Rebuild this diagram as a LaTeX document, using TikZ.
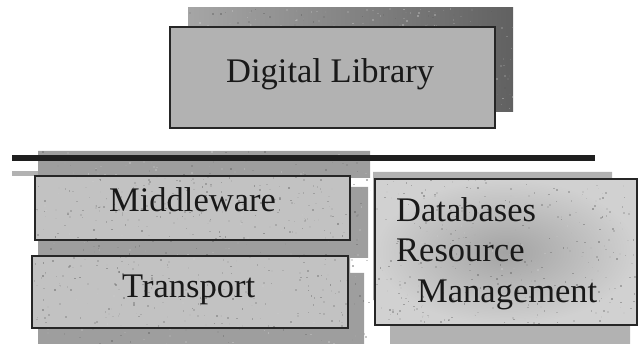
\documentclass[tikz,border=0pt]{standalone}
\usepackage{fontspec}
\setmainfont{Liberation Serif}
\begin{document}
\begin{tikzpicture}[x=1pt,y=-1pt,
  layerbox/.style={draw=black!85, line width=1.6pt, inner sep=0pt},
  layertext/.style={font=\fontsize{34.5}{40}\selectfont, text=black!90, inner sep=0pt, anchor=base west},
  backdrop/.style={fill=black!38},
]
\useasboundingbox (0,0) rectangle (639,344);
\pgfmathsetseed{4217}

% granite-like speckle inside the current clip region
\newcommand{\speckle}[5]{% x0, y0, width, height, count
  \foreach \k in {1,...,#5}{
    \pgfmathsetmacro{\sx}{#1+rnd*#3}
    \pgfmathsetmacro{\sy}{#2+rnd*#4}
    \pgfmathsetmacro{\sg}{int(20+rnd*45)}
    \fill[black!\sg, opacity=0.45] (\sx,\sy) rectangle ++(1.6,1.6);
  }}

% shadow behind the top layer
\fill[left color=black!35, right color=black!62] (188,8) rectangle (513,112);
\begin{scope}
  \clip (188,8) rectangle (513,112);
  \speckle{188}{8}{325}{104}{500}
\end{scope}

% textured backdrop behind the left-hand stack
\fill[backdrop] (38,151) -- (370,151) -- (370,178) -- (350,178) -- (350,187)
  -- (368,187) -- (368,258) -- (350,258) -- (350,273) -- (364,273)
  -- (364,344) -- (38,344) -- cycle;
\fill[black!30] (12,171) rectangle (38,176);
\begin{scope}
  \clip (38,151) rectangle (370,344);
  \speckle{38}{151}{332}{193}{500}
\end{scope}

% backdrop behind the right-hand box
\fill[black!30] (373,172) -- (612,172) -- (612,200) -- (630,200) -- (630,344)
  -- (390,344) -- (390,300) -- (373,300) -- cycle;

% separating bar
\coordinate (barL) at (12,158);
\coordinate (barR) at (595,158);
\draw[line width=6pt, black!88] (barL) -- (barR);

% layer boxes (fills first, speckle, then outlines)
\node[layerbox, fill=black!30, minimum width=325pt, minimum height=101pt] (dl) at (332.5,77.5) {};
\node[inner sep=0pt, fill=black!24, minimum width=315pt, minimum height=64pt] (mw) at (192.5,208) {};
\node[inner sep=0pt, fill=black!24, minimum width=316pt, minimum height=72pt] (tr) at (190,292) {};
\node[inner sep=0pt, inner color=black!36, outer color=black!18, minimum width=262pt, minimum height=146pt] (db) at (506,252) {};

\begin{scope}
  \clip (mw.south west) rectangle (mw.north east);
  \speckle{35}{176}{315}{64}{250}
\end{scope}
\begin{scope}
  \clip (tr.south west) rectangle (tr.north east);
  \speckle{32}{256}{316}{72}{250}
\end{scope}
\begin{scope}
  \clip (db.south west) rectangle (db.north east);
  \speckle{375}{179}{262}{146}{400}
\end{scope}
\draw[draw=black!85, line width=1.6pt] (mw.south west) rectangle (mw.north east);
\draw[draw=black!85, line width=1.6pt] (tr.south west) rectangle (tr.north east);
\draw[draw=black!85, line width=1.6pt] (db.south west) rectangle (db.north east);

% labels
\node[layertext] (dlt) at (226,83) {Digital Library};
\node[layertext] (mwt) at (109,212) {Middleware};
\node[layertext] (trt) at (122,298) {Transport};
\node[layertext] (dbt1) at (396,222) {Databases};
\node[layertext] (dbt2) at (396,262) {Resource};
\node[layertext] (dbt3) at (417,302) {Management};
\end{tikzpicture}
\end{document}
